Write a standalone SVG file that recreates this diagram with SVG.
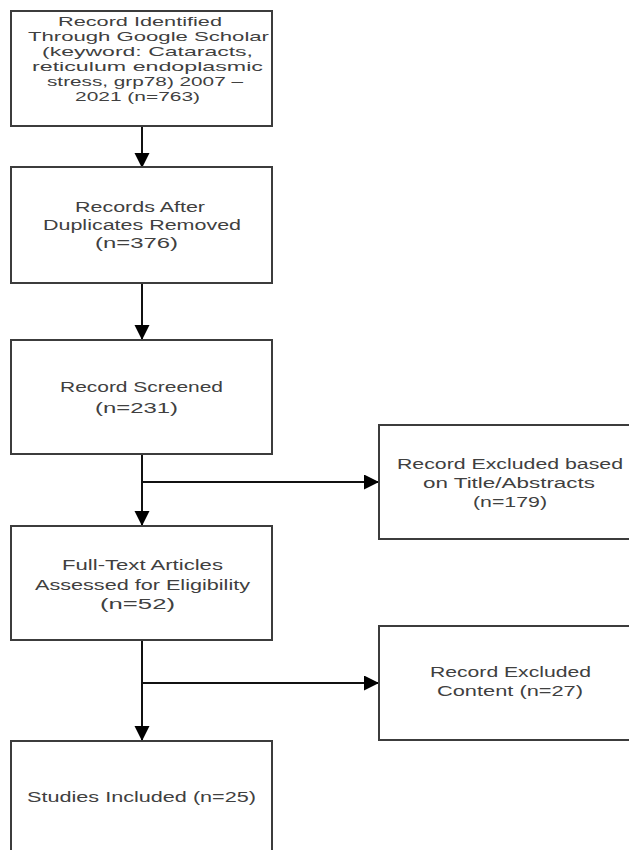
<svg xmlns="http://www.w3.org/2000/svg" width="629" height="850" viewBox="0 0 629 850">
<style>
.box{fill:#fff;stroke:#3c3c3c;stroke-width:2}
.t{font-family:"Liberation Sans",Arial,sans-serif;font-size:15.5px;fill:#404040}
.s{font-size:13px}
.c{fill:none;stroke:#111;stroke-width:2}
</style>
<defs>
<marker id="ah" markerUnits="userSpaceOnUse" markerWidth="16" markerHeight="16" viewBox="0 0 16 16" refX="15" refY="7.5" orient="auto">
<path d="M0,0 L15,7.5 L0,15 Z" fill="#000"/>
</marker>
</defs>
<rect width="629" height="850" fill="#fff"/>
<g id="connectors">
<line class="c" x1="142" y1="126" x2="142" y2="168" marker-end="url(#ah)"/>
<line class="c" x1="142" y1="283" x2="142" y2="340" marker-end="url(#ah)"/>
<line class="c" x1="142" y1="454" x2="142" y2="526" marker-end="url(#ah)"/>
<line class="c" x1="142" y1="482" x2="379" y2="482" marker-end="url(#ah)"/>
<line class="c" x1="142" y1="640" x2="142" y2="741" marker-end="url(#ah)"/>
<line class="c" x1="142" y1="683" x2="379" y2="683" marker-end="url(#ah)"/>
</g>
<g id="n1">
<rect class="box" x="11" y="11" width="261" height="115"/>
<text class="t s" x="58" y="26" textLength="164" lengthAdjust="spacingAndGlyphs">Record Identified</text>
<text class="t s" x="28" y="41" textLength="241" lengthAdjust="spacingAndGlyphs">Through Google Scholar</text>
<text class="t s" x="42" y="56" textLength="211" lengthAdjust="spacingAndGlyphs">(keyword: Cataracts,</text>
<text class="t s" x="32" y="71" textLength="231" lengthAdjust="spacingAndGlyphs">reticulum endoplasmic</text>
<text class="t s" x="47" y="86" textLength="196" lengthAdjust="spacingAndGlyphs">stress, grp78) 2007 –</text>
<text class="t s" x="75" y="101" textLength="125" lengthAdjust="spacingAndGlyphs">2021 (n=763)</text>
</g>
<g id="n2">
<rect class="box" x="11" y="167" width="261" height="116"/>
<text class="t" x="75" y="212" textLength="130" lengthAdjust="spacingAndGlyphs">Records After</text>
<text class="t" x="43" y="230" textLength="198" lengthAdjust="spacingAndGlyphs">Duplicates Removed</text>
<text class="t" x="95" y="248" textLength="83" lengthAdjust="spacingAndGlyphs">(n=376)</text>
</g>
<g id="n3">
<rect class="box" x="11" y="340" width="261" height="114"/>
<text class="t" x="60" y="392" textLength="163" lengthAdjust="spacingAndGlyphs">Record Screened</text>
<text class="t" x="95" y="413" textLength="83" lengthAdjust="spacingAndGlyphs">(n=231)</text>
</g>
<g id="n4">
<rect class="box" x="379" y="425" width="262" height="114"/>
<text class="t" x="397" y="469" textLength="226" lengthAdjust="spacingAndGlyphs">Record Excluded based</text>
<text class="t" x="423" y="488" textLength="172" lengthAdjust="spacingAndGlyphs">on Title/Abstracts</text>
<text class="t" x="473" y="507" textLength="74" lengthAdjust="spacingAndGlyphs">(n=179)</text>
</g>
<g id="n5">
<rect class="box" x="11" y="526" width="261" height="114"/>
<text class="t" x="62" y="570" textLength="161" lengthAdjust="spacingAndGlyphs">Full-Text Articles</text>
<text class="t" x="35" y="590" textLength="215" lengthAdjust="spacingAndGlyphs">Assessed for Eligibility</text>
<text class="t" x="100" y="609" textLength="75" lengthAdjust="spacingAndGlyphs">(n=52)</text>
</g>
<g id="n6">
<rect class="box" x="379" y="626" width="262" height="114"/>
<text class="t" x="430" y="677" textLength="161" lengthAdjust="spacingAndGlyphs">Record Excluded</text>
<text class="t" x="437" y="696" textLength="146" lengthAdjust="spacingAndGlyphs">Content (n=27)</text>
</g>
<g id="n7">
<rect class="box" x="11" y="741" width="261" height="114"/>
<text class="t" x="27" y="802" textLength="229" lengthAdjust="spacingAndGlyphs">Studies Included (n=25)</text>
</g>
</svg>
